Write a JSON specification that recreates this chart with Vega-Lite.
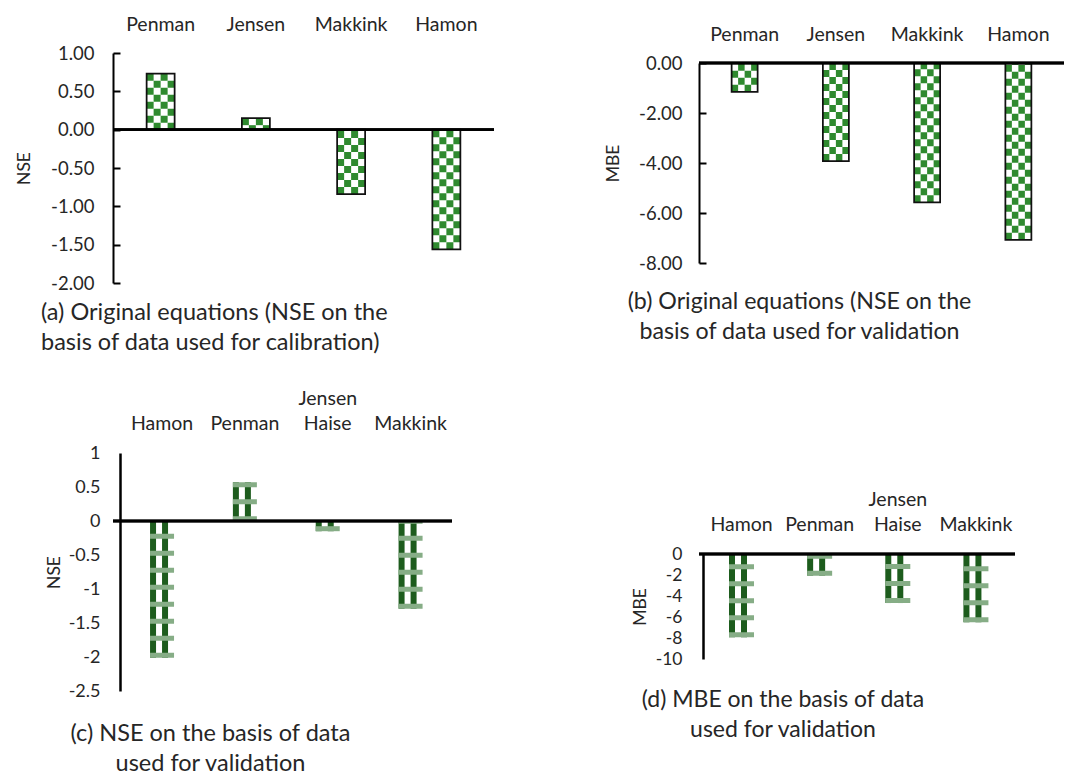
{
  "$schema": "https://vega.github.io/schema/vega-lite/v6.json",
  "background": "white",
  "padding": {"left": 15, "top": 11, "right": 5, "bottom": 0},
  "config": {
    "view": {"stroke": null},
    "font": "Lato",
    "axis": {"grid": false, "labelFont": "Lato", "titleFont": "Lato", "labelColor": "#262626", "titleColor": "#262626", "titleFontWeight": "normal"},
    "title": {"font": "Lato", "fontWeight": "normal", "color": "#262626"}
  },
  "hconcat": [
    {
      "spacing": 0,
      "vconcat": [
        {"width": 1, "height": 1, "view": {"stroke": "#ffffff"}, "data": {"values": []}, "mark": "point"},
        {
          "spacing": 34,
          "vconcat": [
            {
              "width": 381, "height": 230,
              "data": {"values": [{"m": "Penman", "v": 0.73}, {"m": "Jensen", "v": 0.15}, {"m": "Makkink", "v": -0.84}, {"m": "Hamon", "v": -1.56}]},
              "title": {"text": ["(a) Original equations (NSE on the", "basis of data used for calibration)"], "orient": "bottom", "anchor": "start", "frame": "group", "dx": -72, "offset": 8, "fontSize": 23.5, "lineHeight": 30},
              "layer": [
                {"mark": {"type": "rule", "color": "#2f8a2f", "strokeWidth": 7, "strokeDash": [7, 7], "xOffset": -10.5},
                 "encoding": {
                   "x": {"field": "m", "type": "nominal", "sort": null, "scale": {"paddingInner": 0, "paddingOuter": 0}, "axis": {"orient": "top", "domain": false, "ticks": false, "labelAngle": 0, "labelFontSize": 19.5, "labelPadding": 19, "title": null}},
                   "y": {"field": "v", "type": "quantitative", "scale": {"domain": [-2, 1], "nice": false, "zero": false}, "axis": {"title": "NSE", "values": [-2, -1.5, -1, -0.5, 0, 0.5, 1], "tickCount": 20, "format": ".2f", "labelExpr": "replace(datum.label, '\u2212', '-')", "labelOverlap": false, "labelFontSize": 18.5, "titleFontSize": 17.5, "domainWidth": 2, "domainColor": "#000000", "tickWidth": 2, "tickColor": "#000000", "tickSize": -7, "labelPadding": 26, "titlePadding": 17}},
                   "y2": {"datum": 0}}},
                {"mark": {"type": "rule", "color": "#2f8a2f", "strokeWidth": 7, "strokeDash": [7, 7], "strokeDashOffset": 7, "xOffset": -3.5},
                 "encoding": {"x": {"field": "m", "type": "nominal", "sort": null}, "y": {"field": "v", "type": "quantitative"}, "y2": {"datum": 0}}},
                {"mark": {"type": "rule", "color": "#2f8a2f", "strokeWidth": 7, "strokeDash": [7, 7], "xOffset": 3.5},
                 "encoding": {"x": {"field": "m", "type": "nominal", "sort": null}, "y": {"field": "v", "type": "quantitative"}, "y2": {"datum": 0}}},
                {"mark": {"type": "rule", "color": "#2f8a2f", "strokeWidth": 7, "strokeDash": [7, 7], "strokeDashOffset": 7, "xOffset": 10.5},
                 "encoding": {"x": {"field": "m", "type": "nominal", "sort": null}, "y": {"field": "v", "type": "quantitative"}, "y2": {"datum": 0}}},
                {"mark": {"type": "bar", "width": 28, "fill": "transparent", "stroke": "#111111", "strokeWidth": 1.75},
                 "encoding": {"x": {"field": "m", "type": "nominal", "sort": null}, "y": {"field": "v", "type": "quantitative"}, "y2": {"datum": 0}}},
                {"mark": {"type": "rule", "color": "#000000", "strokeWidth": 2.5}, "encoding": {"y": {"datum": 0}}}
              ]
            },
            {
              "width": 339, "height": 238,
              "data": {"values": [{"m": "Hamon", "v": -2.01}, {"m": "Penman", "v": 0.57}, {"m": "Jensen Haise", "v": -0.15}, {"m": "Makkink", "v": -1.29}]},
              "title": {"text": ["(c) NSE on the basis of data", "used for validation"], "orient": "bottom", "anchor": "middle", "frame": "group", "dx": -72, "offset": 22, "fontSize": 23.5, "lineHeight": 30},
              "layer": [
                {"mark": {"type": "rule", "color": "#1d5c1d", "strokeWidth": 6, "xOffset": -9},
                 "encoding": {
                   "x": {"field": "m", "type": "nominal", "sort": null, "scale": {"paddingInner": 0, "paddingOuter": 0.046, "align": 1}, "axis": {"orient": "top", "domain": false, "ticks": false, "labelAngle": 0, "labelFontSize": 19.5, "labelPadding": 45, "labelLineHeight": 25, "labelExpr": "datum.label == 'Jensen Haise' ? ['Jensen', 'Haise'] : ['', datum.label]", "title": null}},
                   "y": {"field": "v", "type": "quantitative", "scale": {"domain": [-2.5, 1], "nice": false, "zero": false}, "axis": {"title": "NSE", "values": [-2.5, -2, -1.5, -1, -0.5, 0, 0.5, 1], "tickCount": 20, "format": ".1~f", "labelExpr": "replace(datum.label, '\u2212', '-')", "labelOverlap": false, "labelFontSize": 18, "titleFontSize": 17.5, "domainWidth": 2.5, "domainColor": "#000000", "ticks": false, "offset": -7, "labelPadding": 20, "titlePadding": 5}},
                   "y2": {"datum": 0}}},
                {"mark": {"type": "rule", "color": "#1d5c1d", "strokeWidth": 6, "xOffset": 3},
                 "encoding": {"x": {"field": "m", "type": "nominal", "sort": null}, "y": {"field": "v", "type": "quantitative"}, "y2": {"datum": 0}}},
                {"mark": {"type": "rule", "color": "#86ad86", "strokeWidth": 24, "strokeDash": [5, 12]},
                 "encoding": {"x": {"field": "m", "type": "nominal", "sort": null}, "y": {"field": "v", "type": "quantitative"}, "y2": {"datum": 0}}},
                {"mark": {"type": "rule", "color": "#000000", "strokeWidth": 2.5}, "encoding": {"y": {"datum": 0}}}
              ]
            }
          ]
        }
      ]
    },
    {
      "spacing": 0,
      "vconcat": [
        {"width": 1, "height": 11, "view": {"stroke": "#ffffff"}, "data": {"values": []}, "mark": "point"},
        {
          "spacing": 146,
          "vconcat": [
            {
              "width": 365, "height": 200,
              "data": {"values": [{"m": "Penman", "v": -1.15}, {"m": "Jensen", "v": -3.92}, {"m": "Makkink", "v": -5.57}, {"m": "Hamon", "v": -7.07}]},
              "title": {"text": ["(b) Original equations (NSE on the", "basis of data used for validation"], "orient": "bottom", "anchor": "middle", "frame": "group", "dx": -82, "offset": 18, "fontSize": 23.2, "lineHeight": 30},
              "layer": [
                {"mark": {"type": "rule", "color": "#2f8a2f", "strokeWidth": 6.5, "strokeDash": [7, 7], "xOffset": -9.75},
                 "encoding": {
                   "x": {"field": "m", "type": "nominal", "sort": null, "scale": {"paddingInner": 0, "paddingOuter": 0}, "axis": {"orient": "top", "domain": false, "ticks": false, "labelAngle": 0, "labelFontSize": 19.5, "labelPadding": 19, "title": null}},
                   "y": {"field": "v", "type": "quantitative", "scale": {"domain": [-8, 0], "nice": false, "zero": false}, "axis": {"title": "MBE", "values": [-8, -6, -4, -2, 0], "tickCount": 20, "format": ".2f", "labelExpr": "replace(datum.label, '\u2212', '-')", "labelOverlap": false, "labelFontSize": 18.5, "titleFontSize": 17.5, "domainWidth": 2, "domainColor": "#000000", "tickWidth": 2, "tickColor": "#000000", "tickSize": -7, "labelPadding": 24, "titlePadding": 16}},
                   "y2": {"datum": 0}}},
                {"mark": {"type": "rule", "color": "#2f8a2f", "strokeWidth": 6.5, "strokeDash": [7, 7], "strokeDashOffset": 7, "xOffset": -3.25},
                 "encoding": {"x": {"field": "m", "type": "nominal", "sort": null}, "y": {"field": "v", "type": "quantitative"}, "y2": {"datum": 0}}},
                {"mark": {"type": "rule", "color": "#2f8a2f", "strokeWidth": 6.5, "strokeDash": [7, 7], "xOffset": 3.25},
                 "encoding": {"x": {"field": "m", "type": "nominal", "sort": null}, "y": {"field": "v", "type": "quantitative"}, "y2": {"datum": 0}}},
                {"mark": {"type": "rule", "color": "#2f8a2f", "strokeWidth": 6.5, "strokeDash": [7, 7], "strokeDashOffset": 7, "xOffset": 9.75},
                 "encoding": {"x": {"field": "m", "type": "nominal", "sort": null}, "y": {"field": "v", "type": "quantitative"}, "y2": {"datum": 0}}},
                {"mark": {"type": "bar", "width": 26, "fill": "transparent", "stroke": "#111111", "strokeWidth": 1.75},
                 "encoding": {"x": {"field": "m", "type": "nominal", "sort": null}, "y": {"field": "v", "type": "quantitative"}, "y2": {"datum": 0}}},
                {"mark": {"type": "rule", "color": "#000000", "strokeWidth": 2.5}, "encoding": {"y": {"datum": 0}}}
              ]
            },
            {
              "width": 316, "height": 105,
              "data": {"values": [{"m": "Hamon", "v": -7.93}, {"m": "Penman", "v": -2.06}, {"m": "Jensen Haise", "v": -4.67}, {"m": "Makkink", "v": -6.5}]},
              "title": {"text": ["(d) MBE on the basis of data", "used for validation"], "orient": "bottom", "anchor": "middle", "frame": "group", "dx": -74, "offset": 21, "fontSize": 23, "lineHeight": 30},
              "layer": [
                {"mark": {"type": "rule", "color": "#1d5c1d", "strokeWidth": 6, "xOffset": -9.5},
                 "encoding": {
                   "x": {"field": "m", "type": "nominal", "sort": null, "scale": {"paddingInner": 0, "paddingOuter": 0.022, "align": 1}, "axis": {"orient": "top", "domain": false, "ticks": false, "labelAngle": 0, "labelFontSize": 19.5, "labelPadding": 45, "labelLineHeight": 25, "labelExpr": "datum.label == 'Jensen Haise' ? ['Jensen', 'Haise'] : ['', datum.label]", "title": null}},
                   "y": {"field": "v", "type": "quantitative", "scale": {"domain": [-10, 0], "nice": false, "zero": false}, "axis": {"title": "MBE", "values": [-10, -8, -6, -4, -2, 0], "tickCount": 20, "format": "d", "labelExpr": "replace(datum.label, '\u2212', '-')", "labelOverlap": false, "labelFontSize": 17.5, "titleFontSize": 17.5, "domainWidth": 2.5, "domainColor": "#000000", "ticks": false, "offset": -4, "labelPadding": 21, "titlePadding": 6}},
                   "y2": {"datum": 0}}},
                {"mark": {"type": "rule", "color": "#1d5c1d", "strokeWidth": 6, "xOffset": 2.5},
                 "encoding": {"x": {"field": "m", "type": "nominal", "sort": null}, "y": {"field": "v", "type": "quantitative"}, "y2": {"datum": 0}}},
                {"mark": {"type": "rule", "color": "#86ad86", "strokeWidth": 25, "strokeDash": [5, 12]},
                 "encoding": {"x": {"field": "m", "type": "nominal", "sort": null}, "y": {"field": "v", "type": "quantitative"}, "y2": {"datum": 0}}},
                {"mark": {"type": "rule", "color": "#000000", "strokeWidth": 2.5}, "encoding": {"y": {"datum": 0}}}
              ]
            }
          ]
        }
      ]
    }
  ],
  "spacing": 108
}
